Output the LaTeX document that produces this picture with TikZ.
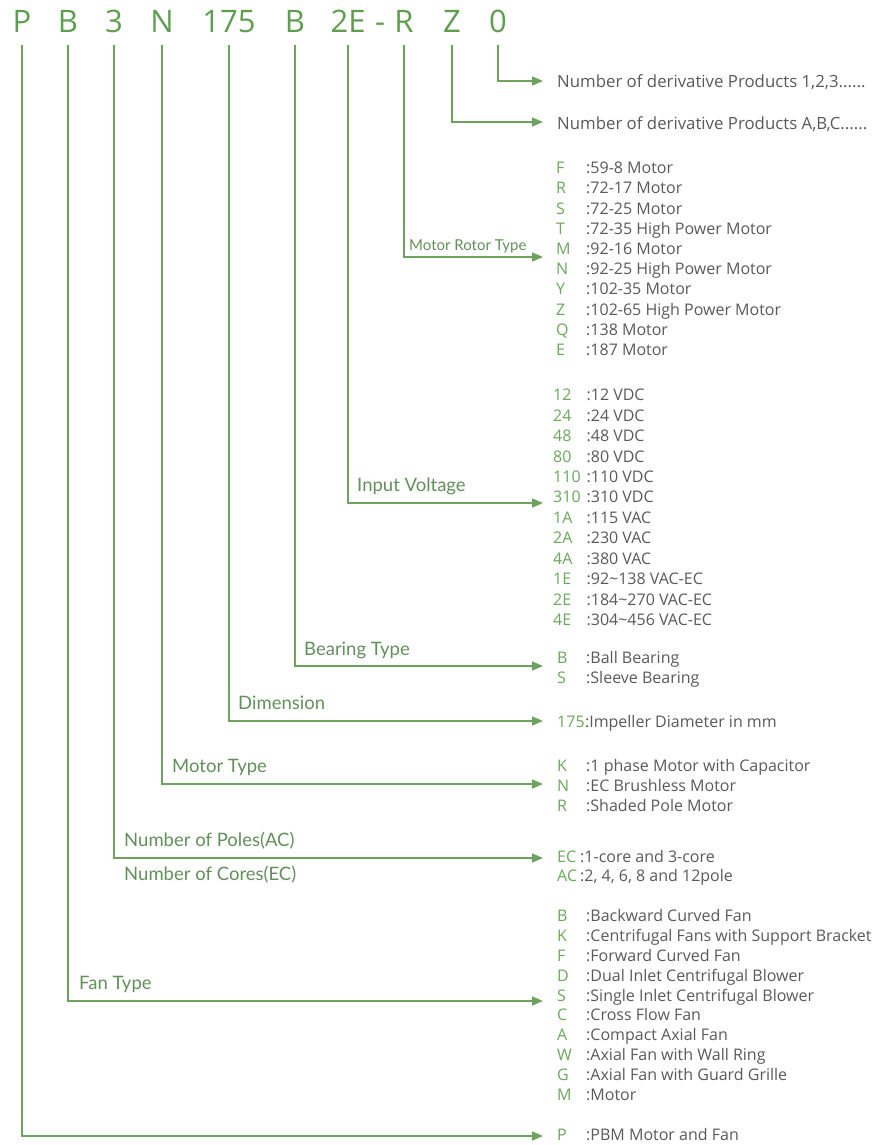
\documentclass[tikz,border=0pt]{standalone}
\usepackage{fontspec}
\setmainfont{Open Sans}
\newfontfamily\labfont{Lato}
\usetikzlibrary{arrows.meta}
\definecolor{hdr}{HTML}{5E9E4E}
\definecolor{ln}{HTML}{6EA35E}
\definecolor{cd}{HTML}{6AA85A}
\definecolor{tx}{HTML}{5A5A5A}
\definecolor{lb}{HTML}{62905A}
\begin{document}
\begin{tikzpicture}[x=1pt,y=-1pt,
  hdrs/.style={font=\fontsize{31}{31}\selectfont, text=hdr, anchor=base, inner sep=0pt},
  conn/.style={draw=ln, line width=1.5pt, -{Triangle[length=11pt,width=9pt]}},
  codes/.style={anchor=west, inner sep=0pt, text height=11.4pt, text depth=0pt, text=cd, font=\fontsize{16}{16}\selectfont},
  descs/.style={anchor=west, inner sep=0pt, text height=11.4pt, text depth=0pt, text=tx, font=\fontsize{16}{16}\selectfont},
  tops/.style={anchor=west, inner sep=0pt, text height=12pt, text depth=0pt, text=tx, font=\fontsize{16.8}{16.8}\selectfont},
  labs/.style={anchor=west, inner sep=0pt, text height=13.3pt, text depth=0pt, text=lb, font=\labfont\fontsize{18.5}{18.5}\selectfont},
]
\useasboundingbox (0,0) rectangle (894,1145);
\fill[white] (0,0) rectangle (894,1145);

% header
\node[hdrs] (hP) at (22,33) {P};
\node[hdrs] (hB) at (68,33) {B};
\node[hdrs] (h3) at (114,33) {3};
\node[hdrs] (hN) at (162,33) {N};
\node[hdrs] (h175) at (229,33) {175};
\node[hdrs] (hBr) at (295,33) {B};
\node[hdrs] (h2E) at (348,33) {2E};
\node[hdrs] (hdash) at (380,33) {-};
\node[hdrs] (hR) at (404,33) {R};
\node[hdrs] (hZ) at (452,33) {Z};
\node[hdrs] (h0) at (498,33) {0};

% arrow ends
\coordinate (a0) at (543,81);
\coordinate (aZ) at (543,122);
\coordinate (aR) at (543,257);
\coordinate (a2E) at (543,503);
\coordinate (aBr) at (543,666);
\coordinate (a175) at (543,721);
\coordinate (aN) at (543,784);
\coordinate (a3) at (543,858);
\coordinate (aB) at (543,1001);
\coordinate (aP) at (543,1136);

\foreach \n in {0,Z,R,2E,Br,175,N,3,B,P}
  \draw[conn] (h\n.south |- 0,45) |- (a\n);

% top texts
\node[tops] (t0) at (557,82) {Number of derivative Products 1,2,3......};
\node[tops] (tZ) at (557,123) {Number of derivative Products A,B,C......};

% motor rotor type
\node[labs, font=\labfont\fontsize{15}{15}\selectfont, text height=10.8pt] (lR) at (409,245) {Motor Rotor Type};
\foreach \c/\d [count=\i from 0] in {F/59-8 Motor, R/72-17 Motor, S/72-25 Motor, T/72-35 High Power Motor, M/92-16 Motor, N/92-25 High Power Motor, Y/102-35 Motor, Z/102-65 High Power Motor, Q/138 Motor, E/187 Motor}{
  \node[codes] (rc\i) at (556,168+20.2*\i) {\c};
  \node[descs] (rd\i) at (586,168+20.2*\i) {:\d};
}

% input voltage
\node[labs] (lV) at (357,485) {Input Voltage};
\foreach \c/\d [count=\i from 0] in {12/12 VDC, 24/24 VDC, 48/48 VDC, 80/80 VDC, 110/110 VDC, 310/310 VDC, 1A/115 VAC, 2A/230 VAC, 4A/380 VAC, 1E/92\textasciitilde 138 VAC-EC, 2E/184\textasciitilde 270 VAC-EC, 4E/304\textasciitilde 456 VAC-EC}{
  \node[codes] (vc\i) at (553,395+20.45*\i) {\makebox[33pt][l]{\c}};
  \node[descs] (vd\i) at (vc\i.east) {:\d};
}

% bearing type
\node[labs] (lBr) at (304,649) {Bearing Type};
\node[codes] (bc0) at (557,658) {B};
\node[descs] (bd0) at (586,658) {:Ball Bearing};
\node[codes] (bc1) at (557,678) {S};
\node[descs] (bd1) at (586,678) {:Sleeve Bearing};

% dimension
\node[labs] (l175) at (238,703) {Dimension};
\node[codes] (dc) at (557,722) {175};
\node[descs] (dd) at (dc.east) {:Impeller Diameter in mm};

% motor type
\node[labs] (lN) at (172,766) {Motor Type};
\foreach \c/\d [count=\i from 0] in {K/1 phase Motor with Capacitor, N/EC Brushless Motor, R/Shaded Pole Motor}{
  \node[codes] (mc\i) at (557,766+20*\i) {\c};
  \node[descs] (md\i) at (586,766+20*\i) {:\d};
}

% poles / cores
\node[labs] (l3a) at (124,840) {Number of Poles(AC)};
\node[labs] (l3b) at (124,874) {Number of Cores(EC)};
\node[codes] (pc0) at (557,857) {EC};
\node[descs] (pd0) at (580,857) {:1-core and 3-core};
\node[codes] (pc1) at (557,876) {AC};
\node[descs] (pd1) at (580,876) {:2, 4, 6, 8 and 12pole};

% fan type
\node[labs] (lB) at (79,983) {Fan Type};
\foreach \c/\d [count=\i from 0] in {B/Backward Curved Fan, K/Centrifugal Fans with Support Bracket, F/Forward Curved Fan, D/Dual Inlet Centrifugal Blower, S/Single Inlet Centrifugal Blower, C/Cross Flow Fan, A/Compact Axial Fan, W/Axial Fan with Wall Ring, G/Axial Fan with Guard Grille, M/Motor}{
  \node[codes] (fc\i) at (557,916+19.85*\i) {\c};
  \node[descs] (fd\i) at (586,916+19.85*\i) {:\d};
}

% P
\node[codes] (Pc) at (557,1135) {P};
\node[descs] (Pd) at (586,1135) {:PBM Motor and Fan};
\end{tikzpicture}
\end{document}
